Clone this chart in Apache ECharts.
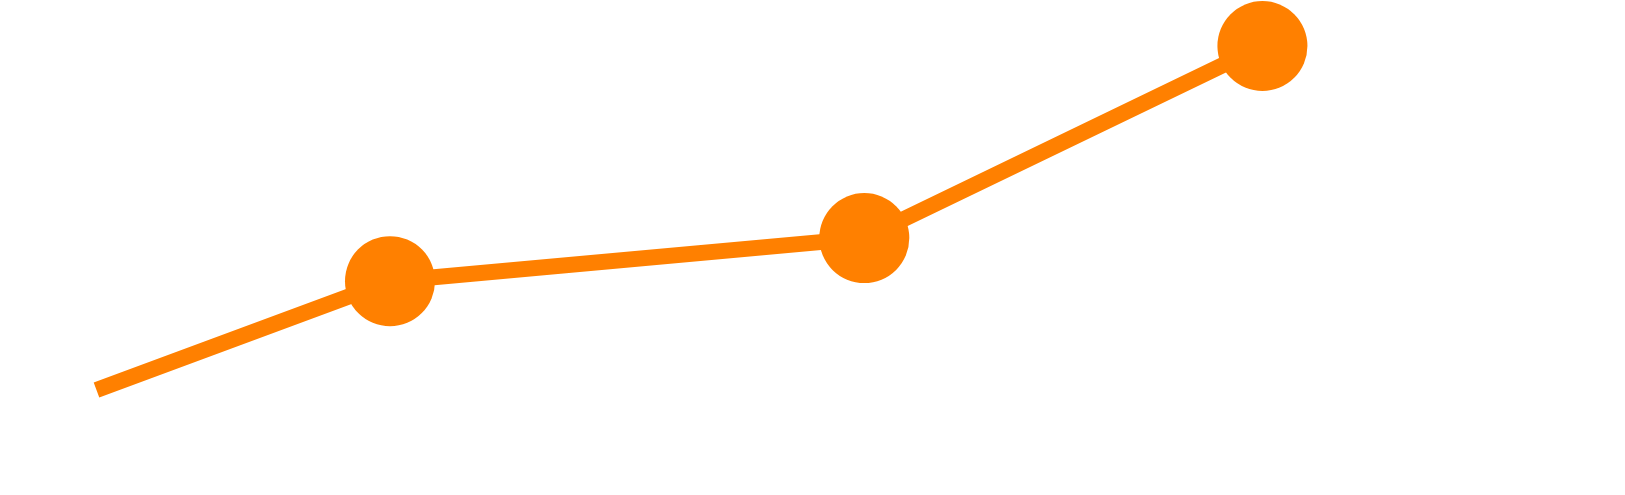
<!DOCTYPE html>
<html>
<head>
<meta charset="utf-8">
<title>Line</title>
<script src="https://cdn.jsdelivr.net/npm/echarts@6/dist/echarts.min.js"></script>
<style>
  html, body { margin: 0; padding: 0; background: #fff; }
  #main { width: 1625px; height: 495px; }
</style>
</head>
<body>
<div id="main"></div>
<script>
// data
var xValues = [0.95, 3.84, 8.51, 12.43];
var yValues = [21.2, 43.2, 51.9, 90.7];
// the first point has no marker in the reference
var markerShown = [false, true, true, true];

var myChart = echarts.init(document.getElementById('main'));

var points = xValues.map(function (x, i) {
    var item = { value: [x, yValues[i]] };
    if (!markerShown[i]) {
        item.symbol = 'none';
    }
    return item;
});

var option = {
    animation: false,
    backgroundColor: '#ffffff',
    grid: { left: 0, right: 0, top: 0, bottom: 0 },
    xAxis: {
        type: 'value',
        min: 0,
        max: 16,
        show: false
    },
    yAxis: {
        type: 'value',
        min: 0,
        max: 100,
        show: false
    },
    series: [
        {
            type: 'line',
            data: points,
            symbol: 'circle',
            symbolSize: 90,
            clip: false,
            itemStyle: { color: '#ff8000' },
            lineStyle: { color: '#ff8000', width: 16, cap: 'butt' }
        }
    ]
};

myChart.setOption(option);
</script>
</body>
</html>
